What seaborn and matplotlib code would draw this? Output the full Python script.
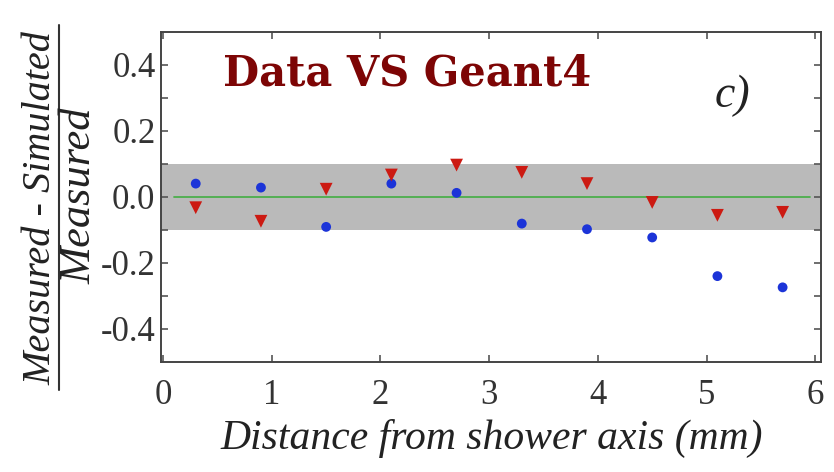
import numpy as np
import pandas as pd
import matplotlib
matplotlib.use("Agg")
import matplotlib.pyplot as plt
import seaborn as sns
from matplotlib.lines import Line2D

# ---- data ----
distance = [0.3, 0.9, 1.5, 2.1, 2.7, 3.3, 3.9, 4.5, 5.1, 5.7]
blue_vals = [0.040, 0.028, -0.091, 0.040, 0.012, -0.081, -0.098, -0.123, -0.240, -0.274]
red_vals = [-0.033, -0.074, 0.023, 0.066, 0.096, 0.074, 0.040, -0.017, -0.056, -0.047]
band_low, band_high = -0.1, 0.1
x_ticks = [0, 1, 2, 3, 4, 5, 6]
y_ticks = [-0.4, -0.2, 0.0, 0.2, 0.4]
y_tick_labels = ["-0.4", "-0.2", "0.0", "0.2", "0.4"]
title_text = "Data VS Geant4"
panel_text = "c)"
x_label = "Distance from shower axis (mm)"
y_num = "Measured - Simulated"
y_den = "Measured"

sns.set_theme(style="white")
plt.rcParams["font.family"] = ["Liberation Serif", "DejaVu Serif"]

df_blue = pd.DataFrame({"x": distance, "y": blue_vals})
df_red = pd.DataFrame({"x": distance, "y": red_vals})

fig = plt.figure(figsize=(8.34, 4.72), dpi=100)
ax = fig.add_axes([0.193, 0.233, 0.791, 0.700])

ax.axhspan(band_low, band_high, color="#bababa", zorder=0, lw=0)
ax.plot([0.1, 5.95], [0, 0], color="#4cae4c", lw=1.3, zorder=1)

sns.scatterplot(data=df_blue, x="x", y="y", ax=ax, marker="o", s=50,
                color="#1c34d8", edgecolor="none", zorder=3)
sns.scatterplot(data=df_red, x="x", y="y", ax=ax, marker="v", s=85,
                color="#cc1a12", edgecolor="none", zorder=3)

ax.set_xlim(-0.02, 6.05)
ax.set_ylim(-0.5, 0.5)
ax.set_xticks(x_ticks)
ax.set_yticks(y_ticks)
ax.set_yticklabels(y_tick_labels)
ax.set_yticks([-0.3, -0.1, 0.1, 0.3], minor=True)
ax.set_xlabel("")
ax.set_ylabel("")

for sp in ax.spines.values():
    sp.set_color("#444444")
    sp.set_linewidth(1.4)

ax.tick_params(axis="both", which="both", direction="in", top=True, right=True,
               left=True, bottom=True, length=5, width=1.2, color="#555555",
               labelsize=25, labelcolor="#333333")
ax.tick_params(axis="x", pad=12)
ax.tick_params(axis="y", pad=4)
for lab in ax.get_xticklabels() + ax.get_yticklabels():
    lab.set_family("Liberation Serif")

ax.text(0.55, 0.373, title_text, color="#7d0505", fontsize=30, fontweight="bold",
        family="DejaVu Serif", ha="left", va="center")
ax.text(5.24, 0.306, panel_text, color="#222222", fontsize=33, fontstyle="italic",
        family="Liberation Serif", ha="center", va="center")

fig.text(0.589, 0.072, x_label, fontsize=30, fontstyle="italic",
         family="Liberation Serif", ha="center", va="center", color="#222222")

fig.text(0.049, 0.560, y_num, rotation=90, fontsize=29, fontstyle="italic",
         family="Liberation Serif", ha="center", va="center", color="#222222")
fig.text(0.095, 0.585, y_den, rotation=90, fontsize=32, fontstyle="italic",
         family="Liberation Serif", ha="center", va="center", color="#222222")
fig.add_artist(Line2D([0.0707, 0.0707], [0.174, 0.947], transform=fig.transFigure,
                      color="#333333", lw=1.5))

fig.savefig("out.png", dpi=100)
